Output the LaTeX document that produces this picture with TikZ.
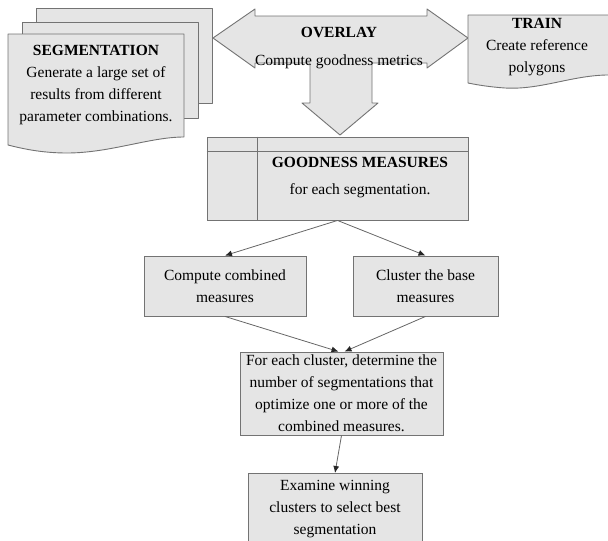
\documentclass[tikz,border=0pt]{standalone}
\usepackage{fontspec}
\setmainfont{Liberation Serif}
\usetikzlibrary{arrows.meta}

\begin{document}
\begin{tikzpicture}[x=1pt,y=-1pt,font=\fontsize{15.5}{22}\selectfont]
\tikzstyle{box}=[draw=black!55,fill=black!10,line width=0.9pt,align=center,inner sep=0pt]
\tikzstyle{doc}=[draw=black!55,fill=black!10,line width=0.9pt,line join=round]
\tikzstyle{arr}=[draw=black!60,line width=0.8pt,-{Latex[length=7pt,width=6pt,color=black!85]}]
\clip (0,0) rectangle (608,541);
% segmentation pages
\draw[doc] (36,8) rectangle (212,103);
\draw[doc] (22,22) rectangle (198,118);
\draw[doc] (8,34) -- (184,34) -- (184,137) .. controls (150,137) and (110,153) .. (67,153) .. controls (40,153) and (20,148) .. (8,145) -- cycle;
\node[align=center] (segm) at (96,85) {\textbf{SEGMENTATION}\\Generate a large set of\\results from different\\parameter combinations.};
% overlay arrow
\draw[doc] (213,38) -- (255,9) -- (255,16) -- (427,16) -- (427,9) -- (468,38) -- (427,68) -- (427,63) -- (372,63) -- (372,103) -- (378,103) -- (340,135) -- (302,103) -- (310,103) -- (310,63) -- (255,63) -- (255,68) -- cycle;
\node[align=center] (overlay) at (339,48) {\textbf{OVERLAY}\\[6pt]Compute goodness metrics};
% train
\draw[doc] (468,15) -- (614,15) -- (614,75) -- (606,75) .. controls (570,76) and (540,90) .. (505,88) .. controls (490,87) and (478,85) .. (468,83) -- cycle;
\node[align=center] (train) at (537,47) {\textbf{TRAIN}\\Create reference\\polygons};
% goodness measures
\node[box,minimum width=261,minimum height=83] (goodness) at (337.5,178.5) {};
\draw[draw=black!55,line width=0.9pt] ([xshift=51pt]goodness.north west) -- ([xshift=51pt]goodness.south west);
\draw[draw=black!55,line width=0.9pt] ([yshift=-15pt]goodness.north west) -- ([yshift=-15pt]goodness.north east);
\node[align=center] (goodtext) at (360,178) {\textbf{GOODNESS MEASURES}\\[5pt]for each segmentation.};
% lower boxes
\node[box,minimum width=162,minimum height=60] (combined) at (225,286) {Compute combined\\measures};
\node[box,minimum width=145,minimum height=60] (cluster) at (425.5,286) {Cluster the base\\measures};
\node[box,minimum width=203,minimum height=83] (each) at (341.5,393.5) {For each cluster, determine the\\number of segmentations that\\optimize one or more of the\\combined measures.};
\node[box,minimum width=174,minimum height=90,anchor=north,text depth=22pt] (examine) at (335,473) {Examine winning\\clusters to select best\\segmentation};
% connectors
\foreach \a/\b/\s in {goodness.south/combined.north/0, goodness.south/cluster.north/0, combined.south/each.north/-3, cluster.south/each.north/3, each.south/examine.north/0}
  \draw[arr] (\a) -- ([xshift=\s pt]\b);
\end{tikzpicture}
\end{document}
